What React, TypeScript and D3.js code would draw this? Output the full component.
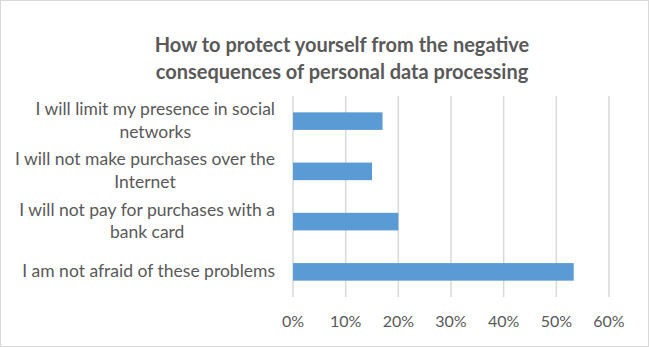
import React, { useEffect, useRef } from "react";
import * as d3 from "d3";

const titleLines = [
  "How to protect yourself from the negative",
  "consequences of personal data processing",
];
const categoryLines: string[][] = [
  ["I will limit my presence in social", "networks"],
  ["I will not make purchases over the", "Internet"],
  ["I will not pay for purchases with a", "bank card"],
  ["I am not afraid of these problems"],
];
const values = [0.17, 0.15, 0.2, 0.533];
const ticks = [0, 0.1, 0.2, 0.3, 0.4, 0.5, 0.6];

const W = 649;
const H = 347;
const FONT = "Lato, 'Open Sans', sans-serif";

export default function App() {
  const ref = useRef<SVGSVGElement | null>(null);

  useEffect(() => {
    const svg = d3.select(ref.current);
    svg.selectAll("*").remove();

    const x = d3.scaleLinear().domain([0, 0.6]).range([293, 609]);
    const y = d3
      .scaleBand<number>()
      .domain(d3.range(categoryLines.length))
      .range([96, 297])
      .paddingInner(0.65)
      .paddingOuter(0.325);

    svg
      .append("rect")
      .attr("x", 0.5)
      .attr("y", 0.5)
      .attr("width", W - 1)
      .attr("height", H - 1)
      .attr("fill", "#fff")
      .attr("stroke", "#d9d9d9")
      .attr("stroke-width", 1);

    // title
    const title = svg
      .append("text")
      .attr("font-family", FONT)
      .attr("font-weight", "bold")
      .attr("font-size", 20)
      .attr("fill", "#595959")
      .attr("text-anchor", "middle");
    titleLines.forEach((t, i) => {
      title
        .append("tspan")
        .attr("x", 342)
        .attr("y", 52 + i * 27)
        .text(t);
    });

    // gridlines
    svg
      .append("g")
      .selectAll("line")
      .data(ticks)
      .join("line")
      .attr("x1", (d) => x(d))
      .attr("x2", (d) => x(d))
      .attr("y1", 96)
      .attr("y2", 297)
      .attr("stroke", "#d9d9d9")
      .attr("stroke-width", 1.5);

    // bars
    svg
      .append("g")
      .selectAll("rect")
      .data(values)
      .join("rect")
      .attr("x", x(0))
      .attr("y", (_d, i) => y(i)!)
      .attr("width", (d) => x(d) - x(0))
      .attr("height", y.bandwidth())
      .attr("fill", "#5b9bd5");

    // tick labels
    svg
      .append("g")
      .selectAll("text")
      .data(ticks)
      .join("text")
      .attr("x", (d) => x(d))
      .attr("y", 327)
      .attr("text-anchor", "middle")
      .attr("font-family", FONT)
      .attr("font-size", 16)
      .attr("fill", "#595959")
      .text((d) => d3.format(".0%")(d));

    // category labels
    const rightEdge = 275;
    categoryLines.forEach((lines, i) => {
      const c = y(i)! + y.bandwidth() / 2;
      const g = svg.append("g");
      const texts = lines.map((l, j) => {
        const base = lines.length === 1 ? c + 5.5 : c - 6 + j * 22.5;
        return g
          .append("text")
          .attr("y", base)
          .attr("text-anchor", "middle")
          .attr("font-family", FONT)
          .attr("font-size", 17.5)
          .attr("fill", "#595959")
          .text(l);
      });
      const maxW = d3.max(texts, (t) => (t.node() as SVGTextElement).getComputedTextLength()) || 0;
      texts.forEach((t) => t.attr("x", rightEdge - maxW / 2));
    });
  }, []);

  return (
    <div style={{ position: "absolute", left: 0, top: 0 }}>
      <svg ref={ref} width={W} height={H} style={{ display: "block" }} />
    </div>
  );
}
